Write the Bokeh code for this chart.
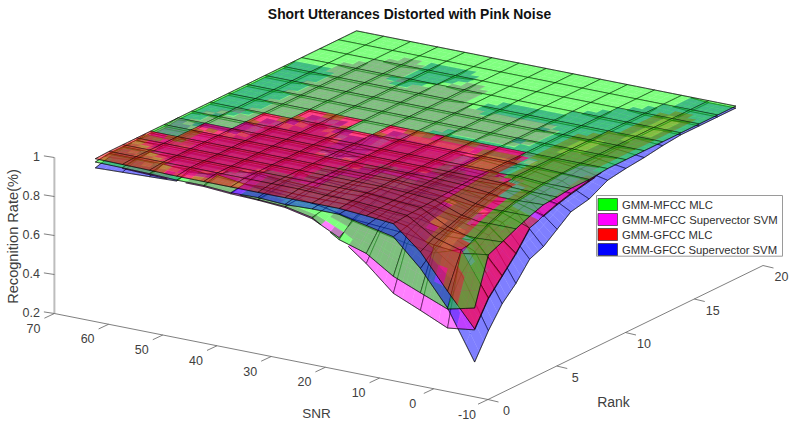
from bokeh.plotting import figure
from bokeh.embed import file_html
from bokeh.resources import INLINE
from bokeh.core.properties import value
import math

TITLE = "Short Utterances Distorted with Pink Noise"
SNR = [-5, 0, 5, 10, 15, 20, 25, 30, 35, 40, 45, 50, 55, 60, 65]
RANK = [1, 2, 3, 4, 5, 6, 7, 8, 9.33, 10.67, 12, 13.33, 14.67, 16, 17.33, 18.67, 20]
SNR_TICKS = [-10, 0, 10, 20, 30, 40, 50, 60, 70]
RANK_TICKS = [0, 5, 10, 15, 20]
RATE_TICKS = [0.2, 0.4, 0.6, 0.8, 1]
SERIES = ["GMM-MFCC MLC", "GMM-MFCC Supervector SVM", "GMM-GFCC MLC", "GMM-GFCC Supervector SVM"]
COLORS = ["#00ff00", "#ff00ff", "#ff0000", "#0000ff"]

# recognition rate in percent; rows follow SNR, columns follow RANK
MFCC_MLC = [
 [60.7,84.6,87.7,91,94,96.5,97,98,98,99,99,99,99,99,99,99,99],
 [57.4,82.5,87,91,94,96,97,98,98.5,99,99,99,99,99,99,99,99],
 [63,84,88,91,93.5,96,97.5,99,99,99,99,99,99,99,99,99,99],
 [68.7,87,91,93,95,96,97,98,98,99,99,99,99,99,99,99,99],
 [77.7,88,91,93,95,96,96.5,98,98,99,99,99,99,99,99,99,99],
 [82,89,92,94,95,96,96.5,96.5,96.5,99,99,99,99,99,99,99,99],
 [90.6,92,94,95,96,96.5,96.5,96.5,96.5,99,99,99,99,99,99,99,99],
 [93.5,94,95,96,96,96.5,96.5,96.5,96.5,99,99,99,99,99,99,99,99],
 [94.3,95,96,96.5,96.5,96.5,98,98,99,99,99,99,99,99,99,99,99],
 [95,96,98,96.5,96.5,96.5,96.5,96.5,99,99,99,99,99,99,99,99,99],
 [96,98,96.5,96.5,96.5,96.5,96.5,96.5,96.5,99,99,99,99,99,99,99,99],
 [96,96.5,96.5,96.5,96.5,96.5,96.5,96.5,99,99,99,99,99,99,99,99,99],
 [96.5,98,96.5,96.5,96.5,96.5,99,99,99,99,99,99,99,99,99,99,99],
 [96.8,98,98,96.5,99,99,99,99,99,99,99,99,99,99,99,99,99],
 [97,98,98,98,99,99,99,99,99,99,99,99,99,99,99,99,99],
]
MFCC_SVM = [
 [49.5,62,70,78,87.5,91,93.5,95.5,97.5,99,99,99,99,99,99,99,99],
 [47.7,84.5,85.5,89.5,93,95,96,97,98,98,98,98,98,98,98,99,99],
 [54,80,85,88,90,93,95,98,98,98,98,98,99,99,99,99,99],
 [60,82,87,90,93,94,95,96,96,99,99,99,99,99,99,99,99],
 [72.5,85,89,92,94,95,96,96.5,97,99,98,98,99,99,99,99,99],
 [83,88,91,93,95,96,98,98,98,99,98,98,99,99,99,99,99],
 [90,92,94,95,96,96.5,98,98,98,99,98,98,99,99,99,99,99],
 [93,94,95,96,96,98,98,98,98,98,98,98,99,99,99,99,99],
 [94,94.5,95.5,98,98,98,96,96,98,98,98,98,98,98,99,99,99],
 [94.5,96,97,98,98,98,98,98,98,98,98,98,98,99,99,99,99],
 [95.5,97,98,98,98,98,98,98,98,98,98,98,98,99,99,99,99],
 [95.5,98,98,98,98,98,98,98,98,98,98,98,98,98,98,99,99],
 [96,97.5,98,98,98,98,98,98,98,98,98,98,98,98,99,99,99],
 [96.5,97.5,97.5,98,98,98,98,98,99,99,99,99,99,99,99,99,99],
 [97,97.5,97.5,97.5,98,98,99,99,99,99,99,99,99,99,99,99,99],
]
GFCC_MLC = [
 [50,62.5,70.5,78.5,88,90.5,93,95,97,99,99,99,99,99,99,99,99],
 [66.6,84,86,90,93,95,96,97,98,98,98,98,98,98,98,99,99],
 [84,88,90,92.5,95,97,98.5,98,98,98,98,98,99,99,99,99,99],
 [95.7,96.5,97,97.5,98,98.5,99,99,99,99,99,99,99,99,99,99,99],
 [97,97.5,98,98.5,98.5,99,99,99,99,99,99,99,99,99,99,99,99],
 [98,98.5,99,99,99,99,99,99,99,99,99,99,99,99,99,99,99],
 [98,98.5,99,99,99,99,99,99,99,99,99,99,99,99,99,99,99],
 [98,99,99,99,99,99,99,99,99,99,99,99,99,99,99,99,99],
 [98,99,99,99,99,99,99,99,99,99,99,99,99,99,99,99,99],
 [98,99,99,99,99,99,99,99,99,99,99,99,99,99,99,99,99],
 [98,99,99,99,99,99,99,99,99,99,99,99,99,99,99,99,99],
 [98,99,99,99,99,99,99,99,99,99,99,99,99,99,99,99,99],
 [98.3,99,99,99,99,99,99,99,99,99,99,99,99,99,99,99,99],
 [98.5,99,99,99,99,99,99,99,99,99,99,99,99,99,99,99,99],
 [98.7,99,99,99,99,99,99,99,99,99,99,99,99,99,99,99,99],
]
GFCC_SVM = [
 [33,45.6,56,63,72,75,80.5,86,88,93,94.5,95.5,97,98,98,98,98],
 [58,72,80,85,88,90,92,93.5,94.5,96,96.5,97,98,98,98,98,98],
 [75.5,82,86,89,91,93,95,96,96.5,97.5,98,98,98,98,98,99,99],
 [89,91,93,94,95,96,97,98,98,98,98,98,98,98,99,99,99],
 [92,93.5,95,96,96.5,97,97.5,98,98,98,99,99,98,99,99,99,99],
 [95,96,97,97.5,98,98,97,97,97,98,99,99,98,99,99,99,99],
 [95,96,96.5,97,97.5,98,97,97,97,98,99,99,98,99,99,99,99],
 [94.5,96,96.5,97,97.5,97,97,97,97,99,99,99,99,99,99,99,99],
 [95.3,96.5,97,97,97,97,98,98,99,99,99,99,99,99,99,99,99],
 [95,96,98,97,97,97,97,97,99,99,99,99,99,99,98,99,99],
 [96,98,97,97,97,97,97,97,97,99,99,99,99,98,98,99,99],
 [95.5,97,97,97,97,97,97,97,99,99,99,99,99,99,99,99,99],
 [95,98,97,97,97,97,99,99,99,99,99,99,99,99,99,99,99],
 [94.5,97,98,97,97,97,99,99,98,98,98,98,98,99,99,99,99],
 [94,96,97,98,97,97,98,98,98,98,98,98,98,99,99,99,99],
]

SURFACES = [MFCC_MLC, GFCC_MLC, MFCC_SVM, GFCC_SVM]   # tie priority when depths coincide
SURF_COLORS = ["#00ff00", "#ff0000", "#ff00ff", "#0000ff"]
SUB = 3
TIE = 0.3


def px(s, r):
    return 487.5 - (s + 10) * 5.42 + r * 13.75


def py(s, r, z):
    return 399 - (s + 10) * 1.075 - r * 6.7 - (z - 0.2) * 195


def val(t, i, j, u, v):
    a = t[i][j] * (1 - u) * (1 - v) + t[i + 1][j] * u * (1 - v)
    b = t[i][j + 1] * (1 - u) * v + t[i + 1][j + 1] * u * v
    return (a + b) / 100


xs, ys, fc, fa, la = [], [], [], [], []


def add_poly(pts, color):
    xs.append([px(*q[:2]) for q in pts])
    ys.append([py(*q) for q in pts])
    fc.append(color)
    fa.append(0.5)
    la.append(0.0)


def add_edge(pts):
    xs.append([px(*q[:2]) for q in pts])
    ys.append([py(*q) for q in pts])
    fc.append("#000000")
    fa.append(0.0)
    la.append(0.62)


for i in range(len(SNR) - 2, -1, -1):
    for j in range(len(RANK) - 2, -1, -1):
        for iu in range(SUB - 1, -1, -1):
            for iv in range(SUB - 1, -1, -1):
                u0, u1 = iu / SUB, (iu + 1) / SUB
                v0, v1 = iv / SUB, (iv + 1) / SUB
                corners = [(u0, v0), (u1, v0), (u1, v1), (u0, v1)]
                means = []
                for k, t in enumerate(SURFACES):
                    m = sum(val(t, i, j, a, b) for a, b in corners) / 4 * 100
                    means.append((m, k))
                order = sorted(means, key=lambda q: (-q[0], q[1]))
                kept = []
                for m, k in order:
                    if all(abs(m - km) >= TIE for km, _ in kept):
                        kept.append((m, k))
                for m, k in reversed(kept):
                    t = SURFACES[k]
                    s0, s1 = SNR[i], SNR[i + 1]
                    r0, r1 = RANK[j], RANK[j + 1]
                    pts = []
                    for a, b in corners:
                        pts.append((s0 + a * (s1 - s0), r0 + b * (r1 - r0), val(t, i, j, a, b)))
                    add_poly(pts, SURF_COLORS[k])
                    if iu == 0:
                        add_edge([pts[0], pts[3]])
                    if iv == 0:
                        add_edge([pts[0], pts[1]])
                    if iu == SUB - 1 and i == len(SNR) - 2:
                        add_edge([pts[1], pts[2]])
                    if iv == SUB - 1 and j == len(RANK) - 2:
                        add_edge([pts[3], pts[2]])

p = figure(width=796, height=422, x_range=(0, 796), y_range=(422, 0), output_backend="svg",
           toolbar_location=None, min_border=0, outline_line_color=None, background_fill_color="white")
p.axis.visible = False
p.grid.visible = False

FONT = value("Liberation Sans")
AX = "#5f5f5f"
TXT = "#404040"

# axes
zb = RATE_TICKS[0]
zt = RATE_TICKS[-1]
smin, smax = SNR_TICKS[0], SNR_TICKS[-1]
rmin, rmax = RANK_TICKS[0], RANK_TICKS[-1]
p.line([px(smax, rmin)] * 2, [py(smax, rmin, zb), py(smax, rmin, zt)], line_color="#bdbdbd", line_width=2)
p.line([px(smin, rmin), px(smax, rmin)], [py(smin, rmin, zb), py(smax, rmin, zb)], line_color=AX, line_width=0.8)
p.line([px(smin, rmin), px(smin, rmax)], [py(smin, rmin, zb), py(smin, rmax, zb)], line_color=AX, line_width=0.8)

p.segment([px(s, rmin) for s in SNR_TICKS], [py(s, rmin, zb) for s in SNR_TICKS],
          [px(s, rmin) - 10 for s in SNR_TICKS], [py(s, rmin, zb) + 4.7 for s in SNR_TICKS],
          line_color=AX, line_width=0.8)
p.segment([px(smin, r) for r in RANK_TICKS], [py(smin, r, zb) for r in RANK_TICKS],
          [px(smin, r) + 10.5 for r in RANK_TICKS], [py(smin, r, zb) + 2.5 for r in RANK_TICKS],
          line_color=AX, line_width=0.8)
p.segment([px(smax, rmin) for z in RATE_TICKS], [py(smax, rmin, z) for z in RATE_TICKS],
          [px(smax, rmin) - 10.5 for z in RATE_TICKS], [py(smax, rmin, z) - 1.6 for z in RATE_TICKS],
          line_color=AX, line_width=0.8)

TS = value("12.5px")
p.text([px(s, rmin) - 21 for s in SNR_TICKS], [py(s, rmin, zb) + 14.5 for s in SNR_TICKS],
       text=[str(s) for s in SNR_TICKS], text_font=FONT, text_font_size=TS, text_color=TXT,
       text_align="center", text_baseline="middle")
p.text([px(smin, r) + 18.5 for r in RANK_TICKS], [py(smin, r, zb) + 11.3 for r in RANK_TICKS],
       text=[str(r) for r in RANK_TICKS], text_font=FONT, text_font_size=TS, text_color=TXT,
       text_align="center", text_baseline="middle")
p.text([39.5] * len(RATE_TICKS), [py(smax, rmin, z) - 1.5 for z in RATE_TICKS],
       text=[str(z) for z in RATE_TICKS], text_font=FONT, text_font_size=TS, text_color=TXT,
       text_align="right", text_baseline="middle")

p.text([316], [413], text=["SNR"], text_font=FONT, text_font_size=value("13.5px"), text_color=TXT,
       text_align="center", text_baseline="middle")
p.text([613], [401.3], text=["Rank"], text_font=FONT, text_font_size=value("14px"), text_color=TXT,
       text_align="center", text_baseline="middle")
p.text([12.5], [236], text=["Recognition Rate(%)"], angle=math.pi / 2, text_font=FONT,
       text_font_size=value("14.6px"), text_color=TXT, text_align="center", text_baseline="middle")
p.text([409], [13.5], text=[TITLE], text_font=FONT, text_font_size=value("13.9px"), text_font_style="bold",
       text_color="#111111", text_align="center", text_baseline="middle")

# surfaces
p.patches(xs, ys, fill_color=fc, fill_alpha=fa, line_color="#000000", line_alpha=la, line_width=0.75)

# legend
p.quad(left=[596], right=[782], top=[195], bottom=[255.7], fill_color="white", line_color="#9a9a9a", line_width=1)
rows = [204, 219, 234, 249]
p.quad(left=[597.5] * 4, right=[617] * 4, top=[y - 6 for y in rows], bottom=[y + 6 for y in rows],
       fill_color=COLORS, line_color="#333333", line_width=0.7)
p.text([621.5] * 4, [y + 0.5 for y in rows], text=SERIES, text_font=FONT, text_font_size=value("11.3px"),
       text_color="#303030", text_align="left", text_baseline="middle")

open("out.html", "w").write(file_html(p, INLINE))
